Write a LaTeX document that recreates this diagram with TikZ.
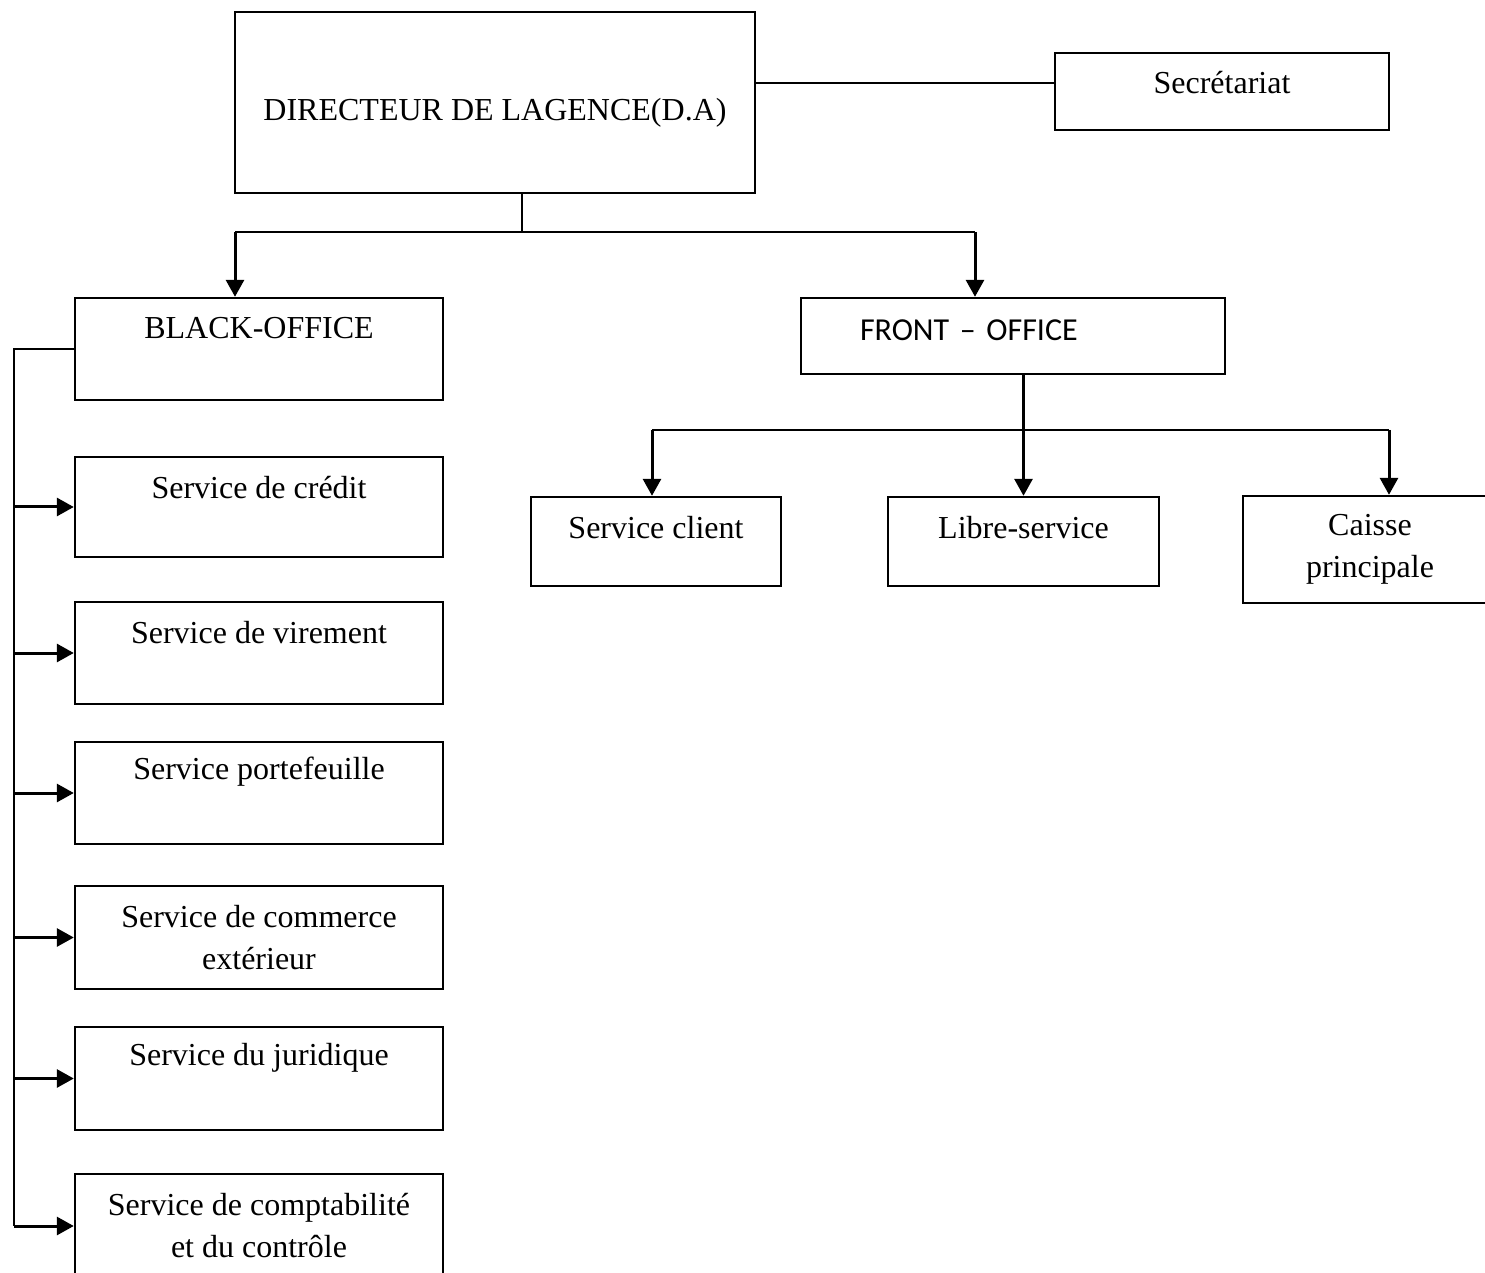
\documentclass[tikz,border=0pt]{standalone}
\usepackage{fontspec}
\setmainfont{Liberation Serif}
\newfontfamily\calibri{Carlito}
\usetikzlibrary{arrows.meta}
\newcommand{\lift}[2]{\raisebox{#1}[\height][\depth]{#2}}

\begin{document}
\begin{tikzpicture}[x=0.5pt, y=-0.5pt, line width=1.2pt,
  box/.style={draw, line width=1.2pt, align=center, inner sep=0pt, font=\fontsize{16}{21}\selectfont},
  arr/.style={line width=1.5pt, -{Triangle[length=8.5pt,width=9pt]}}]
\clip (0,0) rectangle (1485,1273);
\node[box, minimum width=260pt, minimum height=90.5pt] (da) at (495,102.5) {\lift{-5pt}{DIRECTEUR DE LAGENCE(D.A)}};
\node[box, minimum width=167pt, minimum height=38.5pt] (sec) at (1222,91.5) {\lift{4.5pt}{Secrétariat}};

\node[box, minimum width=184pt, minimum height=51pt] (black) at (259,349) {\lift{10.5pt}{BLACK-OFFICE}};
\node[box, minimum width=184pt, minimum height=50pt] (credit) at (259,507) {\lift{9.5pt}{Service de crédit}};
\node[box, minimum width=184pt, minimum height=51pt] (virement) at (259,653) {\lift{10pt}{Service de virement}};
\node[box, minimum width=184pt, minimum height=51pt] (portefeuille) at (259,793) {\lift{10.5pt}{Service portefeuille}};
\node[box, minimum width=184pt, minimum height=51.5pt] (commerce) at (259,937.5) {Service de commerce\\extérieur};
\node[box, minimum width=184pt, minimum height=51.5pt] (juridique) at (259,1078.5) {\lift{10.5pt}{Service du juridique}};
\node[box, minimum width=184pt, minimum height=52pt] (comptabilite) at (259,1226) {Service de comptabilité\\et du contrôle};

\node[box, text width=153pt, inner xsep=29.5pt, minimum height=38pt, align=left, font=\calibri\fontsize{16}{21}\selectfont] (front) at (1013,336) {\lift{3pt}{FRONT – OFFICE}};
\node[box, minimum width=125pt, minimum height=44.5pt] (client) at (656,541.5) {\lift{7pt}{Service client}};
\node[box, minimum width=135.5pt, minimum height=44.5pt] (libre) at (1023.5,541.5) {\lift{7pt}{Libre-service}};
\node[box, minimum width=127pt, minimum height=53.5pt] (caisse) at (1370,549.5) {Caisse\\principale};

% director links
\coordinate (secline) at (900,83);
\draw (da.east |- secline) -- (sec.west |- secline);
\coordinate (split) at (522,232);
\coordinate (lefttee) at (235,232);
\coordinate (righttee) at (975,232);
\draw (da.south -| split) -- (split);
\draw (lefttee) -- (righttee);
\draw[arr] (lefttee) -- (lefttee |- black.north);
\draw[arr] (righttee) -- (righttee |- front.north);

% back office rail
\coordinate (rail) at (14,0);
\draw (black.west) -| (rail |- comptabilite.west);
\draw[arr] (rail |- credit.west) -- (credit.west);
\draw[arr] (rail |- virement.west) -- (virement.west);
\draw[arr] (rail |- portefeuille.west) -- (portefeuille.west);
\draw[arr] (rail |- commerce.west) -- (commerce.west);
\draw[arr] (rail |- juridique.west) -- (juridique.west);
\draw[arr] (rail |- comptabilite.west) -- (comptabilite.west);

% front office links
\coordinate (fleft) at (652,430);
\coordinate (fright) at (1389,430);
\draw[arr] (front.south -| libre.north) -- (libre.north);
\draw (fleft) -- (fright);
\draw[arr] (fleft) -- (fleft |- client.north);
\draw[arr] (fright) -- (fright |- caisse.north);
\end{tikzpicture}
\end{document}
